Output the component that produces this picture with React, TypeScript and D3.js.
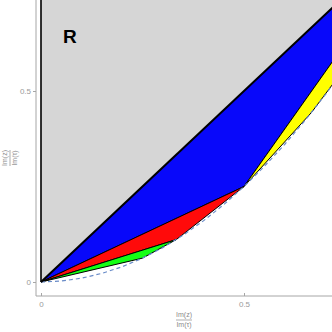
import React, { useRef, useEffect } from 'react'
import { select, scaleLinear, axisLeft, axisBottom, line } from 'd3'

// region vertices (Im(z)/Im(tau) ratios)
const grayPts = [[0, 0], [0, 1], [1, 1]]
const bluePts = [[0, 0], [0.5, 0.25], [1, 1]]
const redPts = [[0, 0], [0.3333, 0.1111], [0.5, 0.25]]
const greenPts = [[0, 0], [0.25, 0.0625], [0.3333, 0.1111]]
const yellowPts = [[0.5, 0.25], [0.6667, 0.4444], [0.75, 0.5625], [1, 1]]
const diagonalPts = [[0, 0], [1, 1]]
const edgePts = [[0, 0], [0, 1]]
// dashed bound curve
const boundPts = [
  [0, 0], [0.05, 0.0025], [0.1, 0.01], [0.15, 0.0225], [0.2, 0.04], [0.25, 0.0625],
  [0.3, 0.09], [0.35, 0.1225], [0.4, 0.16], [0.45, 0.2025], [0.5, 0.25], [0.55, 0.3025],
  [0.6, 0.36], [0.65, 0.4225], [0.7, 0.49], [0.75, 0.5625]
]
const tickValues = [0, 0.5]
const tickLabels = ['0', '0.5']

function App() {
  const svgRef = useRef()

  useEffect(() => {
    const svg = select(svgRef.current)
    svg.selectAll('*').remove()

    const width = 332
    const height = 332
    const xScale = scaleLinear().domain([0, 0.5]).range([41, 244])
    const yScale = scaleLinear().domain([0, 0.5]).range([282, 91])
    const path = line().x(d => xScale(d[0])).y(d => yScale(d[1]))

    svg.append('defs').append('clipPath').attr('id', 'plotclip')
      .append('rect').attr('x', 36).attr('y', 0).attr('width', width - 36).attr('height', 296)

    const g = svg.append('g').attr('clip-path', 'url(#plotclip)')

    const regions = [
      { pts: grayPts, fill: '#d6d6d6', stroke: 'none' },
      { pts: bluePts, fill: '#0808fa', stroke: '#000' },
      { pts: redPts, fill: '#ff0a0a', stroke: '#000' },
      { pts: greenPts, fill: '#14ff14', stroke: '#000' },
      { pts: yellowPts, fill: '#ffff00', stroke: '#000' }
    ]
    regions.forEach(r => {
      g.append('path')
        .attr('d', path(r.pts) + 'Z')
        .attr('fill', r.fill)
        .attr('stroke', r.stroke)
        .attr('stroke-width', 1)
        .attr('stroke-linejoin', 'round')
    })

    g.append('path').attr('d', path(boundPts))
      .attr('fill', 'none').attr('stroke', '#6a8cc8')
      .attr('stroke-width', 1.2).attr('stroke-dasharray', '4,3')

    g.append('path').attr('d', path(diagonalPts))
      .attr('fill', 'none').attr('stroke', '#000').attr('stroke-width', 2)
    g.append('path').attr('d', path(edgePts))
      .attr('fill', 'none').attr('stroke', '#000').attr('stroke-width', 1.6)

    // frame axes
    const axisColor = '#a6a6a6'
    svg.append('line').attr('x1', 36).attr('x2', 36).attr('y1', 0).attr('y2', 296)
      .attr('stroke', axisColor)
    svg.append('line').attr('x1', 36).attr('x2', width).attr('y1', 296).attr('y2', 296)
      .attr('stroke', axisColor)

    const yAxis = svg.append('g').attr('transform', 'translate(36,0)')
      .call(axisLeft(yScale).tickValues(tickValues).tickSize(3).tickPadding(2)
        .tickFormat((d, i) => tickLabels[i]))
    const xAxis = svg.append('g').attr('transform', 'translate(0,296)')
      .call(axisBottom(xScale).tickValues(tickValues).tickSize(-3).tickPadding(5)
        .tickFormat((d, i) => tickLabels[i]))
    ;[xAxis, yAxis].forEach(a => {
      a.select('.domain').remove()
      a.selectAll('line').attr('stroke', axisColor)
      a.selectAll('text').attr('fill', '#9a9a9a').attr('font-size', 8)
        .attr('font-family', 'Liberation Sans, sans-serif')
    })

    // axis labels as fractions
    const labelStyle = s => s.attr('fill', '#8a8a8a').attr('font-size', 7)
      .attr('font-family', 'Liberation Sans, sans-serif').attr('text-anchor', 'middle')
    const xl = svg.append('g').attr('transform', 'translate(184,320)')
    xl.append('text').attr('y', -3).text('Im(z)').call(labelStyle)
    xl.append('line').attr('x1', -8).attr('x2', 8).attr('stroke', '#8a8a8a').attr('stroke-width', 0.7)
    xl.append('text').attr('y', 7).text('Im(τ)').call(labelStyle)
    const yl = svg.append('g').attr('transform', 'translate(10,158) rotate(-90)')
    yl.append('text').attr('y', -3).text('Im(z)').call(labelStyle)
    yl.append('line').attr('x1', -8).attr('x2', 8).attr('stroke', '#8a8a8a').attr('stroke-width', 0.7)
    yl.append('text').attr('y', 7).text('Im(τ)').call(labelStyle)

    svg.append('text').attr('x', 63).attr('y', 43).text('R')
      .attr('font-size', 19).attr('font-weight', 'bold')
      .attr('font-family', 'Liberation Sans, Arial, sans-serif').attr('fill', '#000')
  }, [])

  return (
    <svg ref={svgRef} width="332" height="332"
      style={{ position: 'absolute', left: 0, top: 0, background: '#fff' }}></svg>
  )
}

export default App
